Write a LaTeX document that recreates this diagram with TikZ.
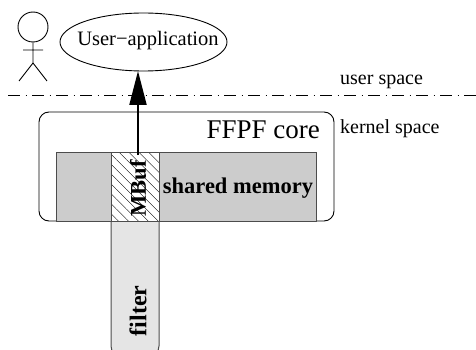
\documentclass[tikz,border=0pt]{standalone}
\usepackage{fontspec}
\setmainfont{Liberation Serif}
\usetikzlibrary{shapes.geometric,arrows.meta,patterns.meta}
\definecolor{linegray}{gray}{0.3}
\tikzset{
  outline/.style={draw=black,line width=0.9pt},
  box/.style={draw=linegray,line width=1pt,minimum width=48pt,inner sep=0pt,outer sep=0pt},
  rot/.style={rotate=90,font=\fontsize{22.5}{23}\selectfont\bfseries,inner sep=0pt},
  lbl/.style={font=\fontsize{20}{20}\selectfont,inner sep=0pt},
  hatch/.style={pattern={Lines[angle=-45,distance=7pt,line width=0.35pt]},pattern color=black}
}
\begin{document}
\begin{tikzpicture}[x=1pt,y=-1pt]
\useasboundingbox (0,0) rectangle (476,350);
% actor
\node[circle,outline,minimum size=30pt,inner sep=0pt] (head) at (33,27) {};
\coordinate (hip) at (33,63);
\coordinate (armL) at (23,50);
\coordinate (armR) at (43,50);
\coordinate (legL) at (19,81);
\coordinate (legR) at (47,81);
\draw[outline] (head.south) -- (hip) (armL) -- (armR) (legL) -- (hip) -- (legR);
% application
\node[ellipse,outline,minimum width=167pt,minimum height=58pt,inner sep=0pt,outer sep=0pt] (app) at (143.5,42) {};
\node[inner sep=0pt,font=\fontsize{20.5}{21}\selectfont] (appt) at (148,41) {User−application};
% separator
\coordinate (sepL) at (8,95);
\coordinate (sepR) at (476,95);
\draw[black,line width=0.8pt,dash pattern=on 12pt off 5.5pt on 1.5pt off 5pt] (sepL) -- (sepR);
\node[lbl,anchor=base west] (us) at (340,85) {user space};
\node[lbl,anchor=base west] (ks) at (340,133) {kernel space};
% core
\node[draw=black,line width=0.9pt,rounded corners=10pt,minimum width=295pt,minimum height=109pt,inner sep=0pt] (core) at (186.5,166.5) {};
\node[anchor=base east,inner sep=0pt,font=\fontsize{27}{27}\selectfont] (coret) at (320,139) {FFPF core};
% shared memory
\node[box,fill=black!20,minimum width=260pt,minimum height=69pt] (shm) at (186,186.5) {};
% filter
\draw[linegray,line width=1pt,fill=black!10,rounded corners=10pt] (111,221) -- (111,356) -- (159,356) -- (159,221);
\node[box,fill=white,minimum height=69pt] (mbuf) at (135,186.5) {};
\node[box,hatch,minimum height=69pt] at (135,186.5) {};
\node[rot] (mbuft) at (138,188.5) {MBuf};
\node[inner sep=0pt,font=\fontsize{22.5}{23}\selectfont\bfseries] (shmt) at (238,188) {shared memory};
\node[rot,font=\fontsize{24}{24}\selectfont\bfseries] (filt) at (138,311) {filter};
% arrow
\coordinate (astart) at (138,155);
\draw[-{Triangle[length=34pt,width=17pt]},black,line width=2pt] (astart) -- (astart |- app.south);
\end{tikzpicture}
\end{document}
